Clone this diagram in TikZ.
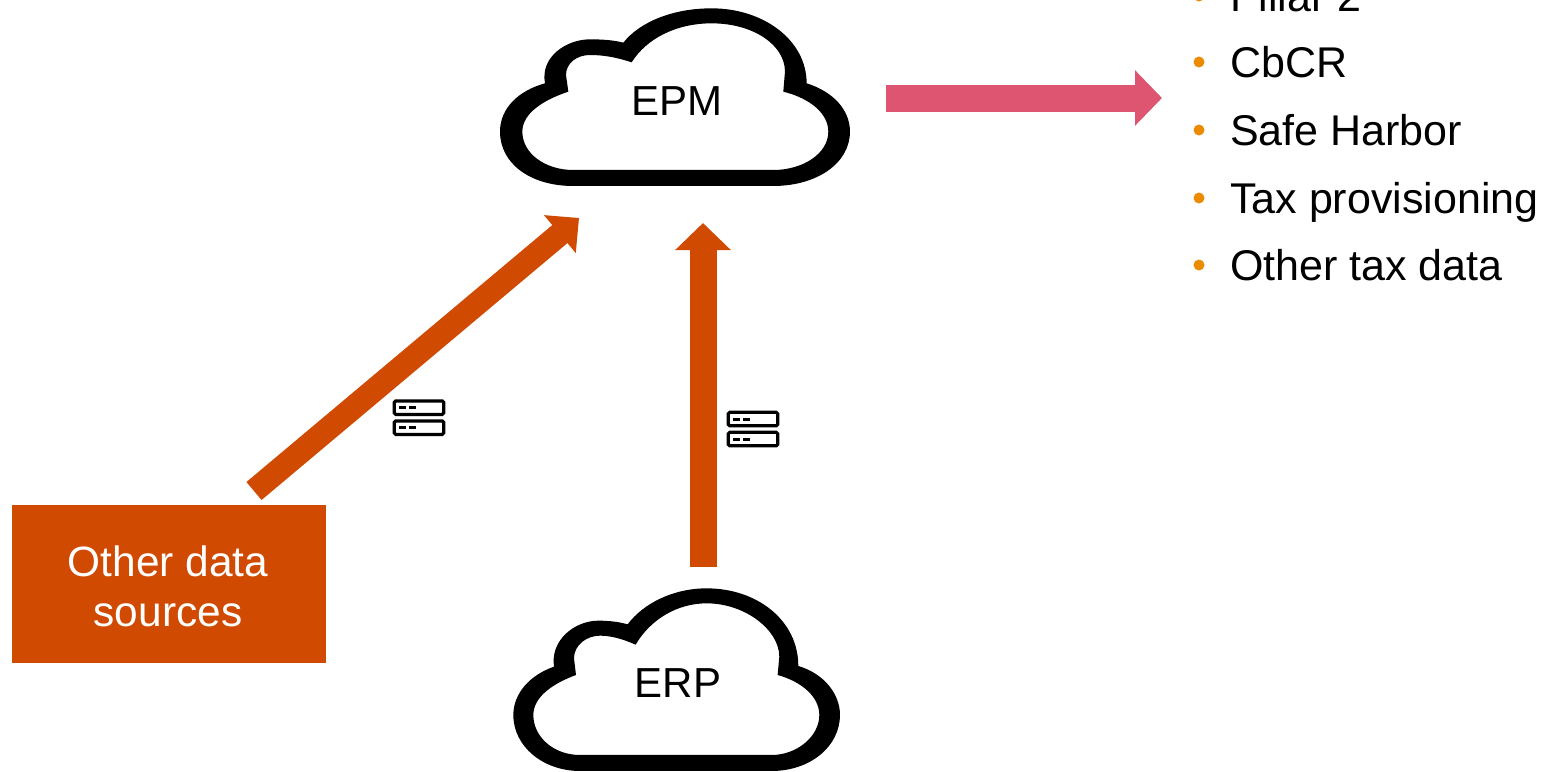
\documentclass[tikz,border=0pt]{standalone}
\usepackage{fontspec}
\setmainfont{Liberation Sans}
\usetikzlibrary{arrows.meta}
\definecolor{pwcorange}{HTML}{D04A02}
\definecolor{pwcpink}{HTML}{DD5570}
\definecolor{pwcbullet}{HTML}{EB8C00}
\tikzset{
  big/.style={font=\fontsize{42pt}{50pt}\selectfont,text=black,inner sep=0pt},
  boxtext/.style={font=\fontsize{42.4pt}{50pt}\selectfont,text=white,inner sep=0pt,anchor=base},
  listitem/.style={font=\fontsize{43pt}{50pt}\selectfont,text=black,inner sep=0pt,anchor=base west},
  cloudshape/.style={fill=black,even odd rule},
  fatarrow/.style={line width=27pt,draw=pwcorange,-{Triangle[length=27pt,width=54pt,fill=pwcorange]},shorten <=0pt},
  diagarrow/.style={line width=23.5pt,draw=pwcorange,-{Triangle[length=25pt,width=48pt,fill=pwcorange]}},
  pinkarrow/.style={line width=27pt,draw=pwcpink,-{Triangle[length=27pt,width=54pt,fill=pwcpink]}},
  bulletdot/.style={circle,fill=pwcbullet,inner sep=0pt,minimum size=11pt},
  serverbox/.style={draw=black,line width=3.2pt,rounded corners=1.5pt,fill=white},
  serverdash/.style={draw=black,line width=3pt},
  serverpair/.pic={
    \draw[serverbox] (1.6,1.6) rectangle (51,15.1);
    \draw[serverbox] (1.6,21.6) rectangle (51,35.1);
    \draw[serverdash] (6.5,8.3) -- (13.5,8.3) (16.5,8.3) -- (23,8.3);
    \draw[serverdash] (6.5,28.4) -- (13.5,28.4) (16.5,28.4) -- (23,28.4);
  }
}
\begin{document}
\begin{tikzpicture}[x=1pt,y=-1pt]
\useasboundingbox (0,0) rectangle (1549,771);
\clip (0,0) rectangle (1549,771);
\fill[white] (0,0) rectangle (1549,771);

% EPM cloud
\begin{scope}[shift={(490,0)},x=0.3333pt,y=-0.3333pt]
\path[cloudshape]
 (250,558) .. controls (120,558) and (30,490) .. (30,395)
 .. controls (30,325) and (85,272) .. (165,250)
 .. controls (150,170) and (230,118) .. (300,118)
 .. controls (335,118) and (370,120) .. (400,128)
 .. controls (450,65) and (550,25) .. (665,25)
 .. controls (820,25) and (950,120) .. (950,250)
 .. controls (1030,275) and (1080,330) .. (1080,395)
 .. controls (1080,490) and (980,558) .. (850,558) -- cycle
 (250,510) .. controls (165,510) and (97,460) .. (97,395)
 .. controls (97,340) and (160,300) .. (235,275)
 -- (228,225)
 .. controls (228,190) and (260,165) .. (300,165)
 .. controls (340,165) and (380,172) .. (425,187)
 .. controls (470,115) and (560,70) .. (665,70)
 .. controls (790,70) and (885,135) .. (885,215)
 -- (880,275)
 .. controls (960,295) and (1015,340) .. (1015,395)
 .. controls (1015,460) and (940,510) .. (850,510) -- cycle;
\end{scope}
% ERP cloud
\begin{scope}[shift={(500,570)},x=0.3333pt,y=-0.3333pt]
\path[cloudshape]
 (240,603) .. controls (130,603) and (40,530) .. (40,435)
 .. controls (40,370) and (90,315) .. (162,290)
 .. controls (150,210) and (225,152) .. (295,152)
 .. controls (325,152) and (355,155) .. (383,163)
 .. controls (430,100) and (520,55) .. (620,55)
 .. controls (770,55) and (895,150) .. (895,288)
 .. controls (970,310) and (1020,370) .. (1020,435)
 .. controls (1020,530) and (930,603) .. (815,603) -- cycle
 (240,555) .. controls (160,555) and (100,500) .. (100,435)
 .. controls (100,380) and (160,340) .. (228,315)
 -- (222,265)
 .. controls (222,225) and (260,197) .. (300,197)
 .. controls (335,197) and (370,208) .. (407,224)
 .. controls (450,150) and (530,100) .. (620,100)
 .. controls (735,100) and (838,180) .. (838,260)
 -- (833,315)
 .. controls (905,335) and (958,380) .. (958,435)
 .. controls (958,500) and (890,555) .. (815,555) -- cycle;
\end{scope}

\node[big,anchor=base] (epm) at (677,115) {EPM};
\node[big,anchor=base] (erp) at (678,697) {ERP};

\node[fill=pwcorange,minimum width=314pt,minimum height=158pt,inner sep=0pt,anchor=north west] (other) at (12,505) {};
\node[boxtext] (otherA) at (168,576) {Other data};
\node[boxtext] (otherB) at (168,626) {sources};

% connector end points
\coordinate (erpTop) at (703,567);
\coordinate (epmBottom) at (703,223);
\coordinate (otherTop) at (254,491);
\coordinate (epmLeft) at (579,218);
\coordinate (epmRight) at (886,98);
\coordinate (listLeft) at (1162,98);

\draw[fatarrow] (erpTop) -- (epmBottom);
\draw[diagarrow] (otherTop) -- (epmLeft);
\draw[pinkarrow] (epmRight) -- (listLeft);

\pic at (392.7,399.3) {serverpair};
\pic at (726.7,410.7) {serverpair};

\node[bulletdot] (b1) at (1199,-4) {};
\node[bulletdot] (b2) at (1199,62) {};
\node[bulletdot] (b3) at (1199,130) {};
\node[bulletdot] (b4) at (1199,198) {};
\node[bulletdot] (b5) at (1199,265) {};
\node[listitem] (l1) at (1230,11) {Pillar 2};
\node[listitem] (l2) at (1230,77) {CbCR};
\node[listitem] (l3) at (1230,145) {Safe Harbor};
\node[listitem] (l4) at (1230,213) {Tax provisioning};
\node[listitem] (l5) at (1230,280) {Other tax data};
\end{tikzpicture}
\end{document}
